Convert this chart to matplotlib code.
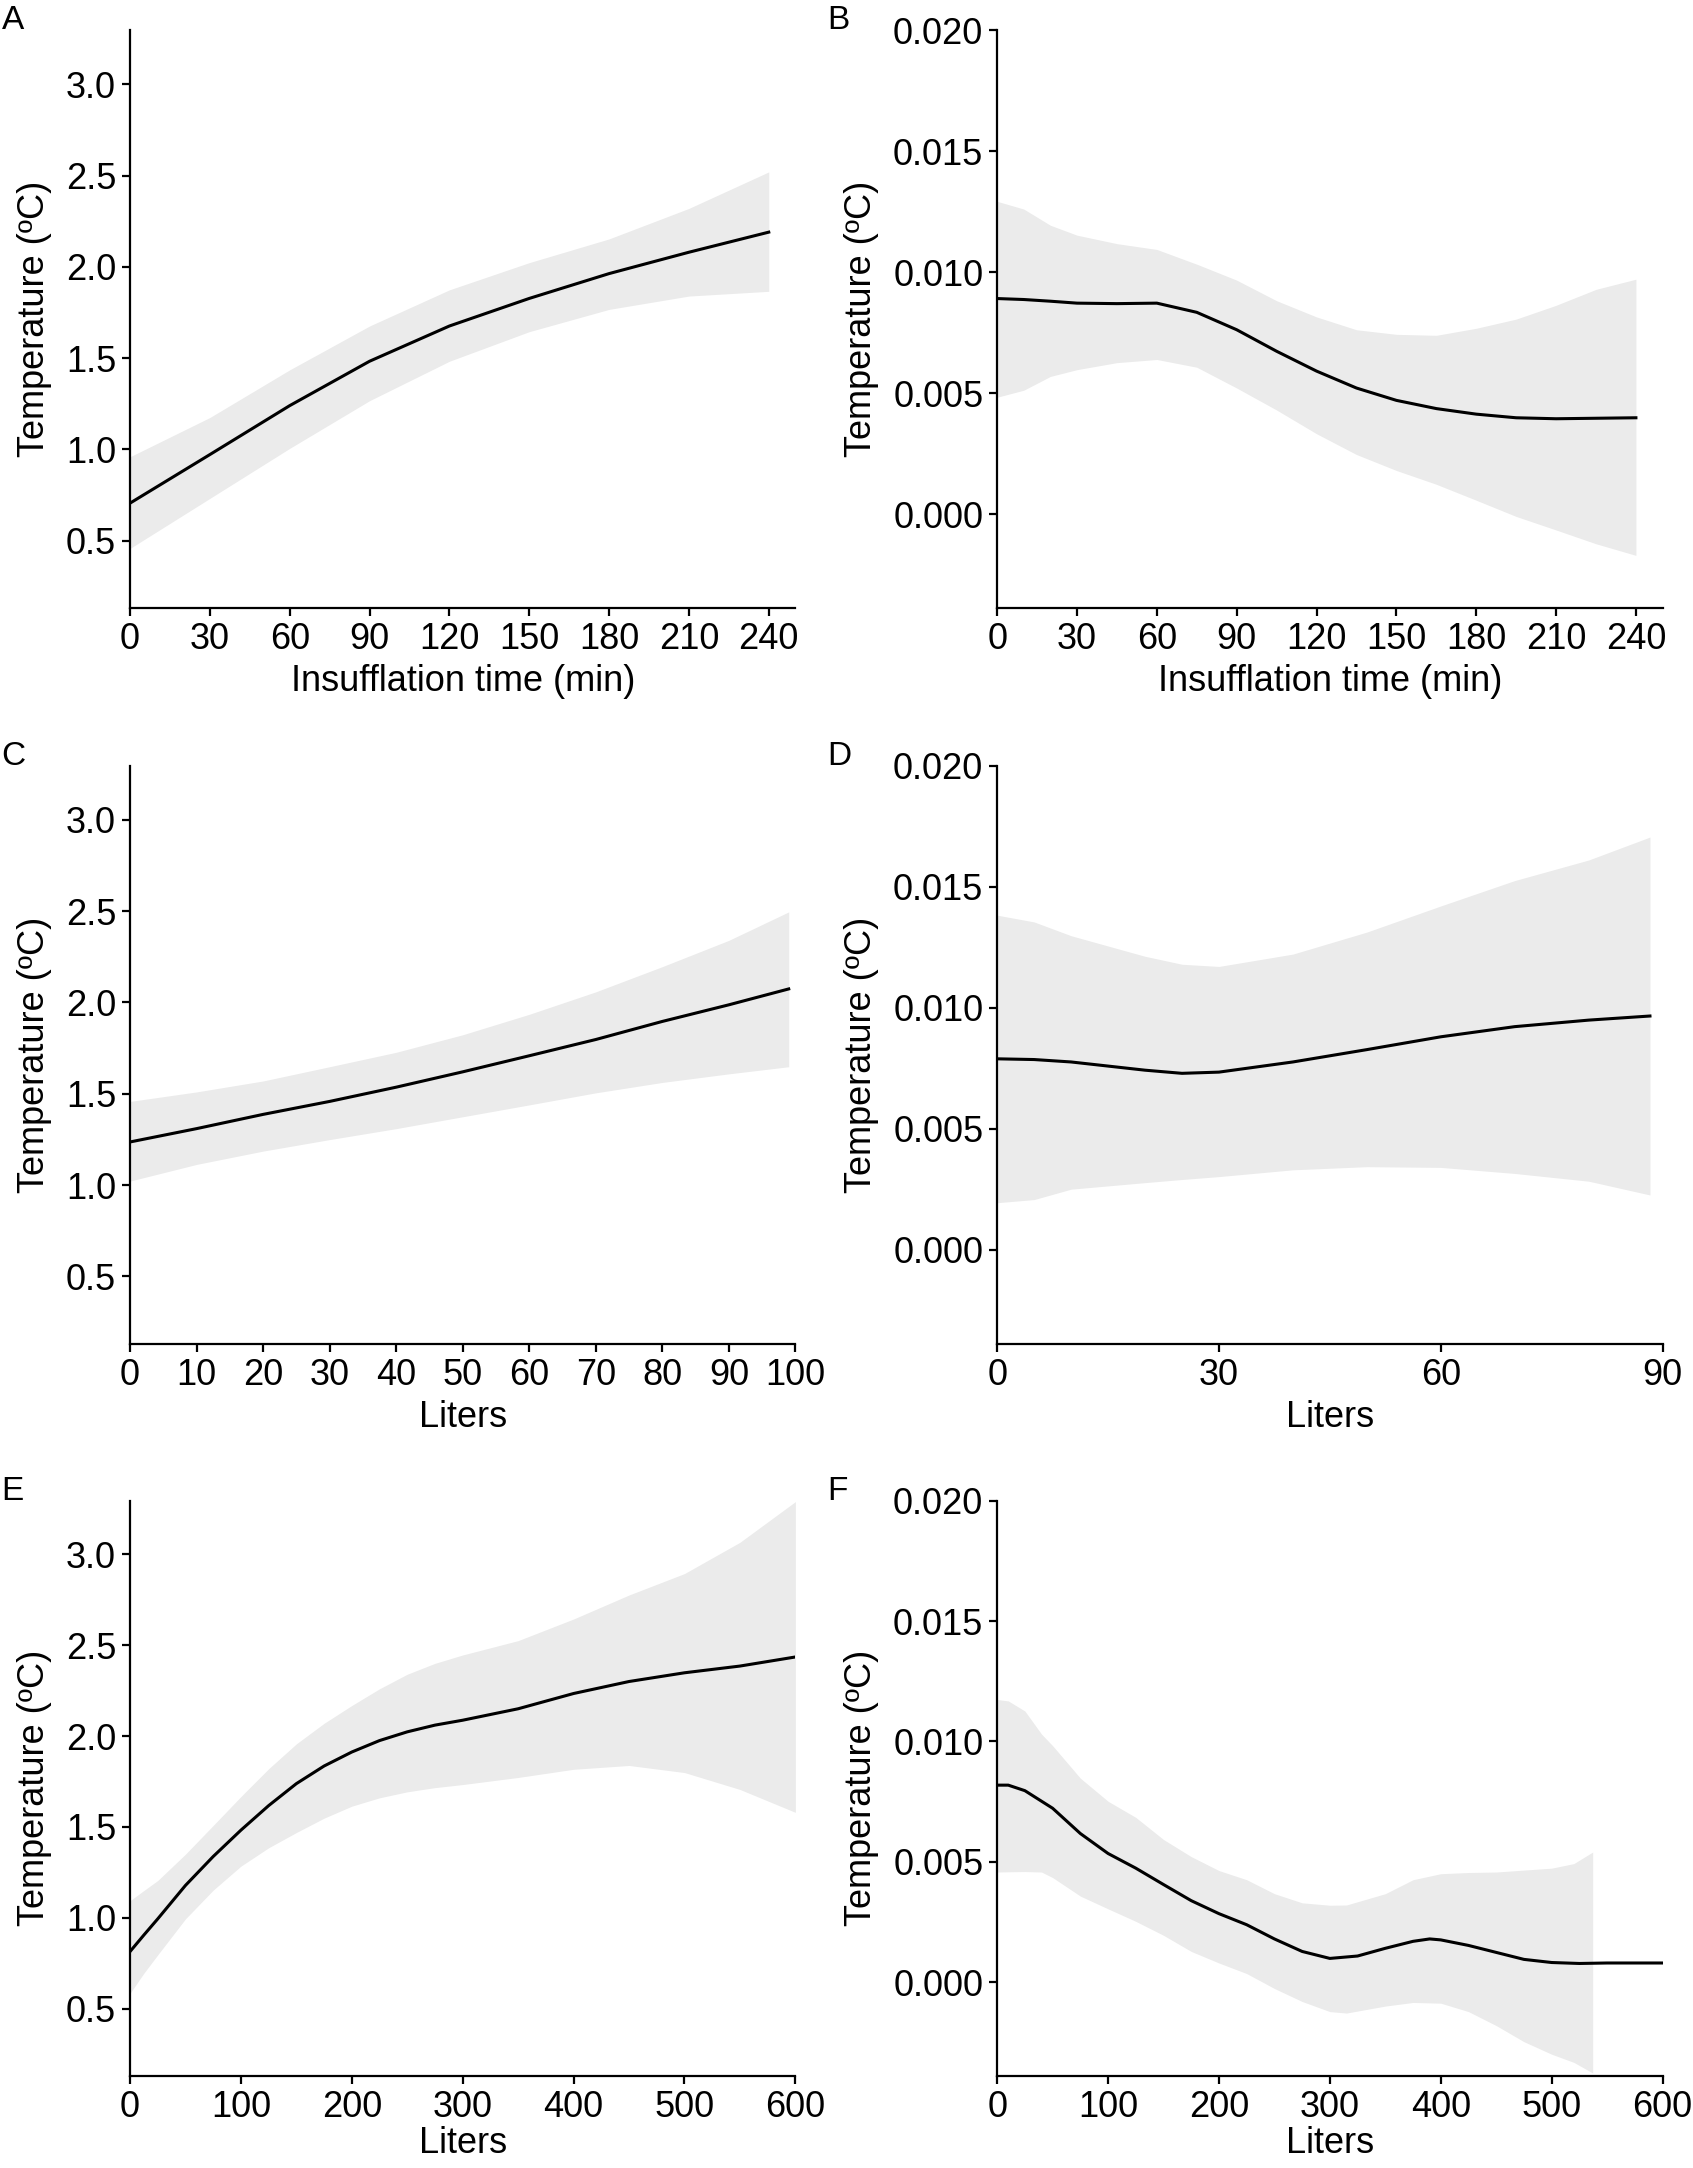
import numpy as np
import matplotlib.pyplot as plt

plt.rcParams['font.family'] = ['Liberation Sans', 'DejaVu Sans']

# ---- data (fit line + ribbon) ----
# A: temperature vs insufflation time
a_x = [0, 30, 60, 90, 120, 150, 180, 210, 240]
a_fit = [0.706, 0.972, 1.24, 1.483, 1.676, 1.827, 1.963, 2.08, 2.19]
a_hi = [0.96, 1.175, 1.436, 1.676, 1.874, 2.023, 2.153, 2.32, 2.52]
a_lo = [0.458, 0.732, 1.006, 1.267, 1.483, 1.645, 1.767, 1.84, 1.866]

# B: slope vs insufflation time
b_x = [0, 10, 20, 30, 45, 60, 75, 90, 105, 120, 135, 150, 165, 180, 195, 210, 225, 240]
b_fit = [0.00891, 0.00887, 0.0088, 0.00872, 0.0087, 0.00872, 0.00834, 0.00762, 0.00673,
         0.00591, 0.00521, 0.0047, 0.00436, 0.00413, 0.00398, 0.00394, 0.00396, 0.00398]
b_hi = [0.01293, 0.01261, 0.01194, 0.01153, 0.01118, 0.01094, 0.01033, 0.00967, 0.00882,
        0.00815, 0.00762, 0.00743, 0.00739, 0.00768, 0.00806, 0.00863, 0.00929, 0.00971]
b_lo = [0.00483, 0.00512, 0.00569, 0.00597, 0.00626, 0.00639, 0.00607, 0.00521, 0.0043,
        0.00332, 0.00246, 0.0018, 0.00123, 0.00057, -0.0001, -0.00066, -0.00123, -0.00171]

# C: temperature vs liters
c_x = [0, 10, 20, 30, 40, 50, 60, 70, 80, 90, 99]
c_fit = [1.236, 1.309, 1.387, 1.458, 1.536, 1.62, 1.708, 1.797, 1.896, 1.987, 2.074]
c_hi = [1.458, 1.51, 1.57, 1.648, 1.727, 1.823, 1.935, 2.058, 2.196, 2.34, 2.496]
c_lo = [1.022, 1.113, 1.186, 1.249, 1.309, 1.374, 1.439, 1.505, 1.562, 1.609, 1.648]

# D: slope vs liters
d_x = [0, 5, 10, 20, 25, 30, 40, 50, 60, 70, 80, 88.3]
d_fit = [0.00789, 0.00786, 0.00776, 0.00742, 0.00729, 0.00734, 0.00776, 0.00827, 0.0088,
         0.00922, 0.00949, 0.00966]
d_hi = [0.01383, 0.01355, 0.01298, 0.01213, 0.01180, 0.01171, 0.01222, 0.01313, 0.01421,
        0.01526, 0.01611, 0.01706]
d_lo = [0.00194, 0.00207, 0.0025, 0.00277, 0.0029, 0.00302, 0.0033, 0.00343, 0.0034,
        0.00315, 0.00283, 0.00226]

# E: temperature vs liters (0-600)
e_x = [0, 12.5, 25, 50, 75, 100, 125, 150, 175, 200, 225, 250, 275, 300, 350, 400, 450, 500,
       550, 600]
e_fit = [0.814, 0.905, 0.994, 1.178, 1.337, 1.482, 1.617, 1.738, 1.835, 1.912, 1.975, 2.023,
         2.06, 2.087, 2.15, 2.234, 2.3, 2.348, 2.385, 2.435]
e_hi = [1.094, 1.15, 1.205, 1.35, 1.508, 1.667, 1.82, 1.957, 2.07, 2.168, 2.26, 2.34, 2.40,
        2.446, 2.525, 2.644, 2.776, 2.894, 3.066, 3.29]
e_lo = [0.584, 0.695, 0.796, 0.994, 1.152, 1.284, 1.385, 1.469, 1.548, 1.614, 1.66, 1.693,
        1.716, 1.733, 1.772, 1.817, 1.838, 1.799, 1.706, 1.58]

# F: slope vs liters (0-600), ribbon stops at ~537
f_x = [0, 10, 25, 50, 75, 100, 125, 150, 175, 200, 225, 250, 275, 300, 325, 350, 375, 390,
       400, 425, 450, 475, 500, 525, 550, 600]
f_fit = [0.00818, 0.00818, 0.00795, 0.00722, 0.00617, 0.00534, 0.00473, 0.00405, 0.00338,
         0.00284, 0.00238, 0.00179, 0.00127, 0.00098, 0.00108, 0.0014, 0.00169, 0.00179,
         0.00175, 0.00152, 0.00123, 0.00094, 0.00081, 0.00077, 0.00079, 0.00079]
f_rx = [0, 10, 25, 40, 50, 75, 100, 125, 150, 175, 200, 225, 250, 275, 300, 315, 350, 375,
        400, 425, 450, 475, 500, 520, 537]
f_hi = [0.01174, 0.01168, 0.01126, 0.0103, 0.00982, 0.00847, 0.00751, 0.00684, 0.00592,
        0.00521, 0.00463, 0.00425, 0.00367, 0.00329, 0.00319, 0.00320, 0.00367, 0.00425,
        0.0045, 0.00455, 0.00457, 0.00465, 0.00473, 0.00492, 0.0054]
f_lo = [0.00457, 0.00458, 0.00459, 0.00457, 0.00434, 0.00357, 0.00304, 0.00252, 0.00194,
        0.00127, 0.00079, 0.00035, -0.00027, -0.00081, -0.00123, -0.00129, -0.001, -0.00085,
        -0.00088, -0.00123, -0.00181, -0.00248, -0.003, -0.00334, -0.00378]

temp_ticks = [0.5, 1.0, 1.5, 2.0, 2.5, 3.0]
slope_ticks = [0.000, 0.005, 0.010, 0.015, 0.020]
time_ticks = [0, 30, 60, 90, 120, 150, 180, 210, 240]

fig = plt.figure(figsize=(16.93, 21.68), dpi=100)

left_x, right_x, width = 0.0768, 0.589, 0.393
label_x = {left_x: 0.001, right_x: 0.4886}
rows = [(0.7194, 0.2666), (0.3801, 0.2666), (0.0425, 0.2653)]

panels = [
    ('A', left_x, 0, a_x, a_fit, a_x, a_hi, a_lo, 'temp', (0, 250), time_ticks, 'Insufflation time (min)'),
    ('B', right_x, 0, b_x, b_fit, b_x, b_hi, b_lo, 'slope', (0, 250), time_ticks, 'Insufflation time (min)'),
    ('C', left_x, 1, c_x, c_fit, c_x, c_hi, c_lo, 'temp', (0, 100), list(range(0, 101, 10)), 'Liters'),
    ('D', right_x, 1, d_x, d_fit, d_x, d_hi, d_lo, 'slope', (0, 90), [0, 30, 60, 90], 'Liters'),
    ('E', left_x, 2, e_x, e_fit, e_x, e_hi, e_lo, 'temp', (0, 600), list(range(0, 601, 100)), 'Liters'),
    ('F', right_x, 2, f_x, f_fit, f_rx, f_hi, f_lo, 'slope', (0, 600), list(range(0, 601, 100)), 'Liters'),
]

for lab, x0, r, x, fit, rx, hi, lo, kind, xl, xt, xlabel in panels:
    bottom, height = rows[r]
    ax = fig.add_axes([x0, bottom, width, height])
    ax.fill_between(rx, lo, hi, color='#EBEBEB', linewidth=0)
    ax.plot(x, fit, color='black', lw=2.2, solid_joinstyle='round')
    ax.set_xlim(*xl)
    ax.set_xticks(xt)
    if kind == 'temp':
        ax.set_ylim(0.13, 3.295)
        ax.set_yticks(temp_ticks)
        ax.set_yticklabels([f'{v:.1f}' for v in temp_ticks])
    else:
        ax.set_ylim(-0.0039, 0.020)
        ax.set_yticks(slope_ticks)
        ax.set_yticklabels([f'{v:.3f}' for v in slope_ticks])
    ax.set_xlabel(xlabel, fontsize=26, labelpad=5 if r < 2 else 1)
    ax.set_ylabel('Temperature (ºC)', fontsize=26, labelpad=10)
    for s in ['top', 'right']:
        ax.spines[s].set_visible(False)
    for s in ['left', 'bottom']:
        ax.spines[s].set_linewidth(1.6)
    ax.tick_params(labelsize=26, width=1.6, length=6, pad=4, colors='black')
    fig.text(label_x[x0], bottom + height + 0.0115, lab, fontsize=24,
             ha='left', va='top')

fig.savefig('out.png', dpi=100)
